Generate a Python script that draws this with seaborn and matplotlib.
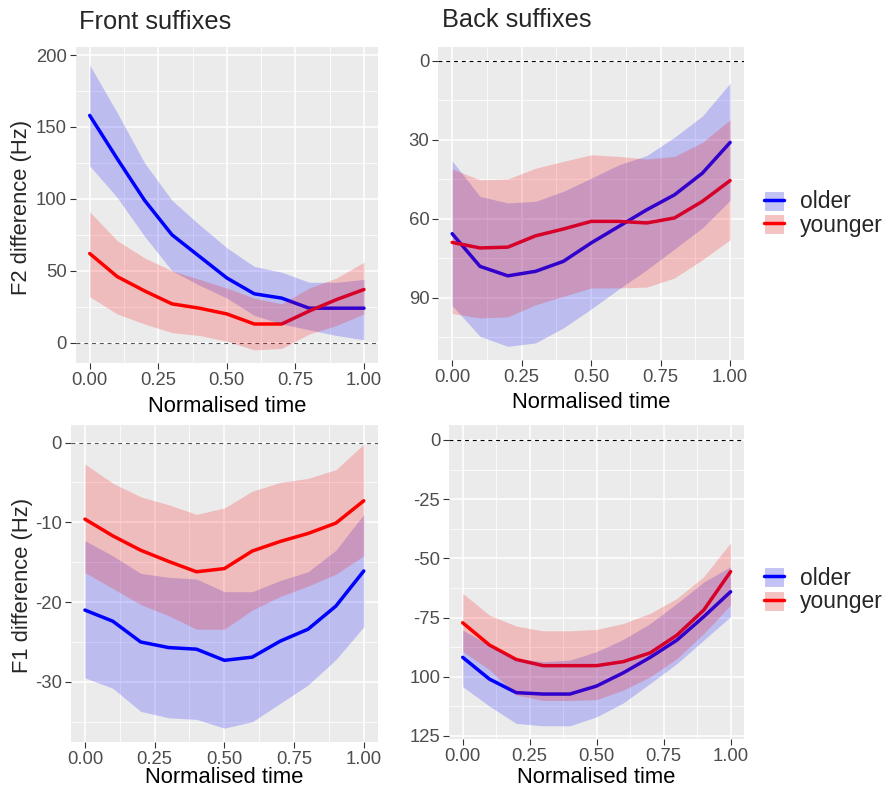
import numpy as np
import pandas as pd
import matplotlib
matplotlib.use("Agg")
import matplotlib.pyplot as plt
from matplotlib.patches import Patch
from matplotlib.lines import Line2D
import seaborn as sns

# ---------------- data ----------------
time = [0.0, 0.1, 0.2, 0.3, 0.4, 0.5, 0.6, 0.7, 0.8, 0.9, 1.0]
groups = ["older", "younger"]

# F2, front suffixes
f2_front_older = [158, 128, 99, 75, 60, 45, 34, 31, 24, 24, 24]
f2_front_older_lo = [123, 101, 74, 50, 40, 31, 19, 13, 9, 5, 2]
f2_front_older_hi = [193, 160, 125, 99, 82, 66, 53, 49, 42, 42, 44]
f2_front_younger = [62, 46, 36, 27, 24, 20, 13, 13, 22, 30, 37]
f2_front_younger_lo = [32, 20, 13, 7, 5, 1, -5, -4, 6, 12, 20]
f2_front_younger_hi = [91, 71, 59, 50, 44, 38, 31, 27, 38, 45, 56]

# F2, back suffixes (axis drawn reversed)
f2_back_older = [65.7, 78.1, 81.7, 80.0, 76.2, 69.2, 62.9, 56.6, 50.9, 42.7, 31.0]
f2_back_older_lo = [38.0, 51.5, 54.0, 53.4, 49.6, 44.6, 39.5, 36.0, 29.0, 21.0, 8.5]
f2_back_older_hi = [93.0, 104.7, 108.5, 107.2, 101.5, 94.3, 86.7, 79.4, 71.5, 63.5, 53.0]
f2_back_younger = [69.0, 71.1, 70.8, 66.5, 63.9, 61.0, 61.0, 61.6, 59.7, 53.4, 45.5]
f2_back_younger_lo = [41.1, 45.2, 44.9, 40.8, 38.2, 35.7, 36.3, 37.3, 36.3, 31.0, 22.4]
f2_back_younger_hi = [96.0, 97.7, 97.3, 92.7, 89.5, 86.3, 86.3, 86.0, 82.5, 75.6, 68.0]

# F1, front suffixes
f1_front_older = [-21.0, -22.4, -25.0, -25.7, -25.9, -27.3, -26.9, -24.9, -23.4, -20.5, -16.1]
f1_front_older_lo = [-29.5, -30.8, -33.7, -34.5, -34.7, -35.8, -35.0, -32.7, -30.4, -27.2, -23.1]
f1_front_older_hi = [-12.3, -14.2, -16.4, -16.9, -17.1, -18.7, -18.7, -17.3, -16.2, -13.5, -9.0]
f1_front_younger = [-9.6, -11.7, -13.5, -14.9, -16.2, -15.8, -13.6, -12.4, -11.4, -10.1, -7.3]
f1_front_younger_lo = [-16.3, -18.3, -20.3, -21.7, -23.4, -23.4, -21.0, -19.3, -18.0, -16.5, -14.2]
f1_front_younger_hi = [-2.7, -5.1, -6.8, -7.8, -9.0, -8.2, -6.1, -5.0, -4.5, -3.4, -0.2]

# F1, back suffixes
f1_back_older = [-91.8, -101.0, -106.7, -107.3, -107.3, -103.9, -98.3, -91.8, -84.5, -74.6, -64.1]
f1_back_older_lo = [-104.2, -112.4, -119.7, -120.7, -120.7, -116.9, -111.0, -102.8, -94.4, -84.5, -74.6]
f1_back_older_hi = [-80.3, -86.6, -92.3, -93.6, -93.0, -89.4, -84.2, -77.5, -69.0, -60.0, -53.5]
f1_back_younger = [-77.2, -86.6, -92.7, -95.3, -95.3, -95.3, -93.6, -89.9, -82.4, -71.8, -55.6]
f1_back_younger_lo = [-89.4, -97.0, -107.7, -110.0, -110.0, -109.6, -105.6, -100.0, -92.3, -81.7, -69.7]
f1_back_younger_hi = [-64.8, -74.0, -78.6, -80.6, -80.6, -80.0, -77.5, -73.2, -66.9, -57.7, -43.4]

x_ticks = [0.0, 0.25, 0.5, 0.75, 1.0]
x_tick_labels = ["0.00", "0.25", "0.50", "0.75", "1.00"]
f2_front_yticks = [0, 50, 100, 150, 200]
f2_front_ylabels = ["0", "50", "100", "150", "200"]
f2_back_yticks = [0, 30, 60, 90]
f2_back_ylabels = ["0", "30", "60", "90"]
f1_front_yticks = [0, -10, -20, -30]
f1_front_ylabels = ["0", "-10", "-20", "-30"]
f1_back_yticks = [0, -25, -50, -75, -100, -125]
f1_back_ylabels = ["0", "-25", "-50", "-75", "100", "125"]

# ---------------- style ----------------
sns.set_theme(style="darkgrid")
plt.rcParams["font.family"] = ["Liberation Sans", "DejaVu Sans"]
plt.rcParams["axes.facecolor"] = "#EBEBEB"

palette = {"older": "#0000FF", "younger": "#FF0000"}
TICK_FS = 13.3
AXLAB_FS = 15.8
TITLE_FS = 18.3
LEG_FS = 16.5

fig = plt.figure(figsize=(8.9, 7.89), dpi=100)
W, H = 890.0, 789.0


def add_ax(l, t, r, b):
    return fig.add_axes([l / W, 1 - b / H, (r - l) / W, (b - t) / H])


def panel(ax, older, older_lo, older_hi, younger, younger_lo, younger_hi,
          ylim, yticks, ylabels, yminor, zcolor, xpad):
    df = pd.DataFrame({
        "time": time * 2,
        "value": list(older) + list(younger),
        "group": ["older"] * len(time) + ["younger"] * len(time),
    })
    ax.axhline(0, color=zcolor, lw=0.8, ls=(0, (3.5, 3.5)), zorder=1.5)
    sns.lineplot(data=df, x="time", y="value", hue="group", palette=palette,
                 linewidth=2.5, legend=False, ax=ax, zorder=2)
    for g, lo, hi in (("older", older_lo, older_hi), ("younger", younger_lo, younger_hi)):
        ax.fill_between(time, lo, hi, color=palette[g], alpha=0.2, lw=0, zorder=3)
    ax.set_xlim(-0.05, 1.05)
    ax.set_ylim(*ylim)
    ax.set_xticks(x_ticks)
    ax.set_xticklabels(x_tick_labels)
    ax.set_xticks([0.125, 0.375, 0.625, 0.875], minor=True)
    ax.set_yticks(yticks)
    ax.set_yticklabels(ylabels)
    ax.set_yticks(yminor, minor=True)
    ax.grid(which="major", color="white", lw=1.1)
    ax.grid(which="minor", color="white", lw=0.55)
    ax.set_axisbelow(True)
    for s in ax.spines.values():
        s.set_visible(False)
    ax.tick_params(which="major", direction="out", length=4, width=0.8,
                   color="#333333", labelcolor="#4D4D4D", labelsize=TICK_FS, pad=2.5,
                   bottom=True, left=True)
    ax.tick_params(which="minor", length=0)
    ax.set_xlabel("Normalised time", fontsize=AXLAB_FS, color="black", labelpad=xpad)
    ax.set_ylabel("")


ax1 = add_ax(76, 46.7, 377.7, 362.7)
panel(ax1, f2_front_older, f2_front_older_lo, f2_front_older_hi,
      f2_front_younger, f2_front_younger_lo, f2_front_younger_hi,
      (-13.9, 205.8), f2_front_yticks, f2_front_ylabels, [25, 75, 125, 175], "#555555", 5)

ax2 = add_ax(438.3, 46.7, 744, 360)
panel(ax2, f2_back_older, f2_back_older_lo, f2_back_older_hi,
      f2_back_younger, f2_back_younger_lo, f2_back_younger_hi,
      (113.7, -5.4), f2_back_yticks, f2_back_ylabels, [15, 45, 75, 105], "black", 4.5)

ax3 = add_ax(71, 425, 377.7, 741.7)
panel(ax3, f1_front_older, f1_front_older_lo, f1_front_older_hi,
      f1_front_younger, f1_front_younger_lo, f1_front_younger_hi,
      (-37.5, 2.2), f1_front_yticks, f1_front_ylabels, [-5, -15, -25, -35], "#555555", -0.5)

ax4 = add_ax(449.3, 425, 744, 739.3)
panel(ax4, f1_back_older, f1_back_older_lo, f1_back_older_hi,
      f1_back_younger, f1_back_younger_lo, f1_back_younger_hi,
      (-126.4, 6.3), f1_back_yticks, f1_back_ylabels, [-12.5, -37.5, -62.5, -87.5, -112.5], "black", 1.5)

# titles and y labels
fig.text(79 / W, 1 - 22 / H, "Front suffixes", fontsize=TITLE_FS, ha="left", va="center")
fig.text(441.5 / W, 1 - 20 / H, "Back suffixes", fontsize=TITLE_FS, ha="left", va="center")
fig.text(22 / W, 1 - 207 / H, "F2 difference (Hz)", fontsize=AXLAB_FS, rotation=90,
         ha="center", va="center")
fig.text(23 / W, 1 - 585 / H, "F1 difference (Hz)", fontsize=AXLAB_FS, rotation=90,
         ha="center", va="center")

# legends
key_bg = np.array([242, 242, 242]) / 255.0


def handles():
    hs = []
    for g in groups:
        c = np.array(matplotlib.colors.to_rgb(palette[g]))
        fc = 0.8 * key_bg + 0.2 * c
        hs.append((Patch(facecolor=fc, edgecolor="white", lw=0.8),
                   Line2D([], [], color=palette[g], lw=2.5)))
    return hs


for top in (190.5, 567):
    fig.legend(handles(), groups, loc="upper left",
               bbox_to_anchor=(764 / W, 1 - top / H), frameon=False,
               fontsize=LEG_FS, handlelength=0.87, handleheight=0.96,
               handletextpad=0.72, labelspacing=0.02, borderpad=0,
               borderaxespad=0)

fig.savefig("out.png", dpi=100)
